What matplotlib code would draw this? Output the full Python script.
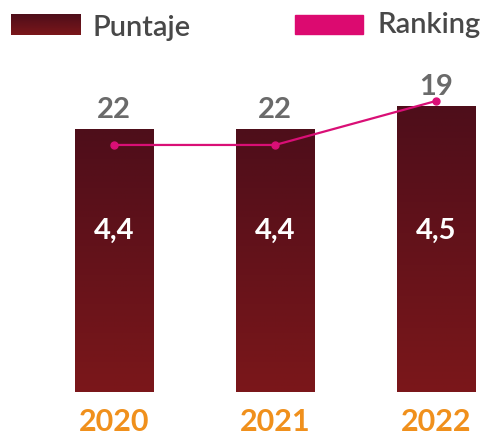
import numpy as np
import matplotlib.pyplot as plt
import matplotlib.transforms as mtransforms
from matplotlib.colors import LinearSegmentedColormap
from matplotlib.patches import Rectangle

# Data
years = ['2020', '2021', '2022']
puntaje = [4.4, 4.4, 4.5]
ranking = [22, 22, 19]

plt.rcParams['font.family'] = ['Lato', 'DejaVu Sans']

W, H = 486, 435
Y_MIN = 3.257

fig = plt.figure(figsize=(W / 100, H / 100), dpi=100)
ax = fig.add_axes([0, 1 - 393 / H, 1, 333 / H])

cmap = LinearSegmentedColormap.from_list('puntaje', ['#7b171a', '#4e0e1a'])
grad = np.linspace(0, 1, 256).reshape(-1, 1)

x = np.arange(len(years))
bars = ax.bar(x, puntaje, width=0.485, color='#661320', zorder=2)
for b in bars:
    x0, w, top = b.get_x(), b.get_width(), b.get_height()
    ax.imshow(grad, extent=[x0, x0 + w, Y_MIN, top], origin='lower',
              aspect='auto', cmap=cmap, zorder=3)

ax.set_xlim(-0.71, 2.31)
ax.set_ylim(Y_MIN, 4.705)

# values inside bars
trans = mtransforms.blended_transform_factory(ax.transData, ax.transAxes)
for xi, v in zip(x, puntaje):
    ax.text(xi, 0.487, f'{v:.1f}'.replace('.', ','), transform=trans,
            ha='center', va='center', color='white', fontsize=21,
            fontweight='bold', zorder=4)

# ranking labels above bars
for xi, v, r in zip(x, puntaje, ranking):
    ax.annotate(str(r), (xi, v), xytext=(0, 8.6), textcoords='offset points',
                ha='center', va='baseline', color='#6a6a6a', fontsize=21,
                fontweight='bold')

ax.set_xticks(x, years)
ax.tick_params(axis='x', length=0, pad=10.5, labelsize=22, labelcolor='#f0901c')
for lbl in ax.get_xticklabels():
    lbl.set_fontweight('bold')
ax.set_yticks([])
for s in ax.spines.values():
    s.set_visible(False)
ax.patch.set_visible(False)

# ranking line (inverted scale)
ax2 = ax.twinx()
ax2.plot(x, ranking, color='#d90f76', lw=1.6, marker='o', ms=5, zorder=5)
ax2.set_ylim(38.84, 16.14)
ax2.axis('off')

# legend
lax = fig.add_axes([11 / W, 1 - 36 / H, 69 / W, 21 / H])
lax.imshow(grad, origin='lower', aspect='auto', cmap=cmap)
lax.axis('off')
fig.add_artist(Rectangle((295 / W, 1 - 35 / H), 68 / W, 19 / H,
                         transform=fig.transFigure, color='#dc0a70'))
fig.text(92 / W, 1 - 36 / H, 'Puntaje', fontsize=21, color='#484848',
         va='baseline', fontweight='semibold')
fig.text(377 / W, 1 - 33.5 / H, 'Ranking', fontsize=21, color='#484848',
         va='baseline', fontweight='semibold')

fig.savefig('out.png', dpi=100)
